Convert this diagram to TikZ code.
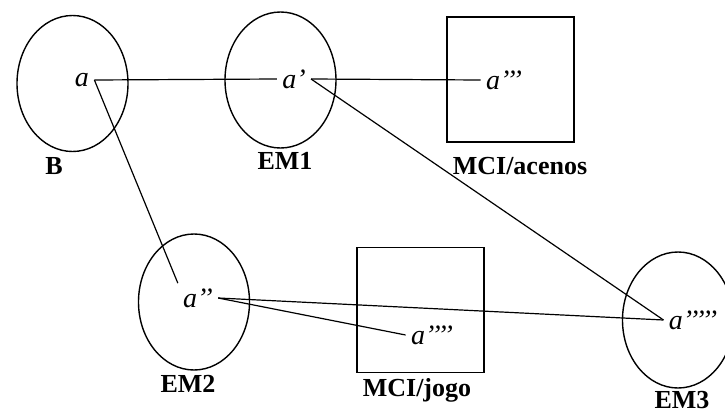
\documentclass[tikz,border=0pt]{standalone}
\usepackage{fontspec}
\setmainfont{Liberation Serif}
\usetikzlibrary{shapes.geometric}

\begin{document}
\begin{tikzpicture}[x=0.5pt,y=-0.5pt]
  \useasboundingbox (0,0) rectangle (725,413);
  % spaces: ellipses and frames
  \begin{scope}[every node/.style={ellipse,draw,line width=0.7pt,inner sep=0pt,
                                   minimum width=55.5pt,minimum height=68pt}]
    \node (B) at (72.5,83.5) {};
    \node (EM1) at (280.5,80) {};
    \node (EM2) at (194,302) {};
    \node (EM3) at (678,320) {};
  \end{scope}
  \begin{scope}[every node/.style={rectangle,draw,line width=0.7pt,inner sep=0pt,
                                   minimum width=63.5pt,minimum height=62.5pt}]
    \node (acenos) at (510.5,79.5) {};
    \node (jogo) at (420.5,310) {};
  \end{scope}
  % elements
  \begin{scope}[every node/.style={font=\fontsize{14}{16}\selectfont\itshape,inner sep=2.5pt}]
    \node (a) at (82,80) {a};
    \node (a1) at (294,79) {a’};
    \node (a3) at (504,80) {a’’’};
    \node (a2) at (198,298) {a’’};
    \node (a4) at (432,335) {a’’’’};
    \node (a5) at (693,320) {a’’’’’};
  \end{scope}
  \begin{scope}[every edge/.style={draw=black,line width=0.6pt}]
    \path (a.east) edge (a1.west);
    \path (a1.east) edge (a3.west);
    \path (a.east) edge (a2.north west);
    \path (a1.east) edge (a5.west);
    \path (a2.east) edge (a5.west);
    \path (a2.east) edge (a4.west);
  \end{scope}
  % names
  \begin{scope}[every node/.style={font=\fontsize{13}{14}\selectfont\bfseries}]
    \node (lB) at (54,166) {B};
    \node (lEM1) at (285,161) {EM1};
    \node (lacenos) at (520,166) {MCI/acenos};
    \node (lEM2) at (188,384) {EM2};
    \node (ljogo) at (417,390) {MCI/jogo};
    \node (lEM3) at (682,400) {EM3};
  \end{scope}
\end{tikzpicture}
\end{document}
